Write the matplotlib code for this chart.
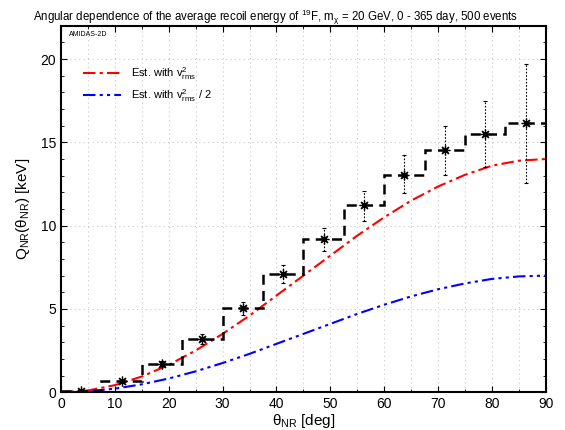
import numpy as np
import matplotlib.pyplot as plt
from matplotlib.ticker import MultipleLocator

plt.rcParams['font.family'] = ['Liberation Sans', 'DejaVu Sans']
plt.rcParams['mathtext.fontset'] = 'custom'
plt.rcParams['mathtext.rm'] = 'Liberation Sans'
plt.rcParams['mathtext.it'] = 'Liberation Sans'

# binned reconstruction (7.5 deg bins)
bin_edges = [0, 7.5, 15, 22.5, 30, 37.5, 45, 52.5, 60, 67.5, 75, 82.5, 90]
q_rec = [0.08, 0.65, 1.7, 3.18, 5.03, 7.08, 9.2, 11.22, 13.03, 14.56, 15.53, 16.15]
err_up = [0.06, 0.1, 0.15, 0.32, 0.4, 0.58, 0.68, 0.83, 1.2, 1.4, 1.94, 3.55]
err_lo = [0.06, 0.1, 0.15, 0.28, 0.38, 0.55, 0.7, 0.92, 1.05, 1.5, 1.98, 3.6]

# theoretical curves
theta = [0, 5, 10, 15, 20, 25, 30, 35, 40, 45, 50, 55, 60, 65, 70, 75, 80, 85, 90]
q_vrms = [0, 0.1, 0.42, 0.94, 1.64, 2.5, 3.5, 4.6, 5.8, 7.0, 8.2, 9.4,
          10.5, 11.5, 12.35, 13.05, 13.6, 13.9, 14.0]
q_half = [0, 0.05, 0.21, 0.47, 0.82, 1.25, 1.75, 2.3, 2.9, 3.5, 4.1, 4.7,
          5.25, 5.75, 6.18, 6.53, 6.8, 6.95, 7.0]

fig = plt.figure(figsize=(5.65, 4.30), dpi=100)
ax = fig.add_axes([0.108, 0.088, 0.858, 0.852])

ax.plot(theta, q_vrms, color='red', lw=1.5, dashes=[6, 2, 1.5, 2],
        label=r'Est. with $\mathrm{v}^2_{\mathrm{rms}}$', zorder=3)
ax.plot(theta, q_half, color='blue', lw=1.5, dashes=[6, 2, 1.5, 2, 1.5, 2],
        label=r'Est. with $\mathrm{v}^2_{\mathrm{rms}}$ / 2', zorder=3)

edges = np.array(bin_edges)
vals = np.array(q_rec)
centers = (edges[:-1] + edges[1:]) / 2
ax.stairs(vals, edges, color='black', lw=1.8, ls=(0, (4, 2.5)), baseline=None, zorder=4)
eb = ax.errorbar(centers, vals, yerr=[err_lo, err_up], fmt='none', ecolor='black',
                 elinewidth=0.8, capsize=1.5, capthick=0.8, zorder=5)
eb[2][0].set_linestyle((0, (1.5, 1.5)))
ax.plot(centers, vals, ls='none', marker=(8, 2, 0), ms=7, mew=0.9, color='black', zorder=6)

ax.set_xlim(0, 90)
ax.set_ylim(0, 22)
ax.xaxis.set_major_locator(MultipleLocator(10))
ax.xaxis.set_minor_locator(MultipleLocator(5))
ax.yaxis.set_major_locator(MultipleLocator(5))
ax.yaxis.set_minor_locator(MultipleLocator(1))
ax.tick_params(which='both', direction='in', top=True, right=True, labelsize=10)
ax.tick_params(which='major', length=4)
ax.tick_params(which='minor', length=2.5)
ax.grid(True, which='major', axis='y', color='#c8c8c8', ls=(0, (1, 3)), lw=0.8)
ax.grid(True, which='both', axis='x', color='#c8c8c8', ls=(0, (1, 3)), lw=0.8)
for s in ax.spines.values():
    s.set_linewidth(1.5)

ax.set_xlabel(r'$\theta_{\mathrm{NR}}$ [deg]', fontsize=11, labelpad=1)
ax.set_ylabel(r'$\mathrm{Q}_{\mathrm{NR}}(\theta_{\mathrm{NR}})$ [keV]', fontsize=11, labelpad=6)
fig.suptitle(r'Angular dependence of the average recoil energy of $^{19}$F, '
             r'm$_{\chi}$ = 20 GeV, 0 - 365 day, 500 events',
             x=0.488, y=0.983, fontsize=8.3)
ax.text(0.016, 0.985, 'AMIDAS-2D', transform=ax.transAxes, fontsize=5, va='top')

ax.legend(loc='upper left', bbox_to_anchor=(0.025, 0.92), frameon=False,
          fontsize=8, handlelength=3.4, handletextpad=0.9, labelspacing=0.45)

fig.savefig('out.png', dpi=100)
